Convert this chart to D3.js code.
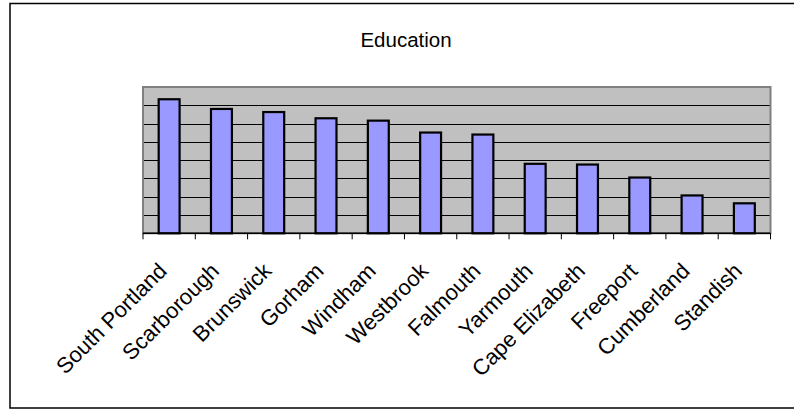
<!DOCTYPE html>
<html><head><meta charset="utf-8">
<script src="https://cdn.jsdelivr.net/npm/d3@7"></script>
<style>body{margin:0;background:#fff}svg{display:block}</style>
</head><body>
<script>
const categories = ["South Portland","Scarborough","Brunswick","Gorham","Windham","Westbrook","Falmouth","Yarmouth","Cape Elizabeth","Freeport","Cumberland","Standish"];
const values = [7.33,6.80,6.63,6.29,6.16,5.51,5.40,3.80,3.76,3.05,2.07,1.64];
const gridTicks = [0,1,2,3,4,5,6,7,8];
const title = "Education";

const W=794,H=409;
const svg=d3.select("body").append("svg").attr("width",W).attr("height",H);
svg.append("rect").attr("x",10).attr("y",3.5).attr("width",790).attr("height",404.5)
  .attr("fill","#fff").attr("stroke","#000").attr("stroke-width",1.5);

const L=143,R=770.5,T=87,B=233.3;
const x=d3.scaleBand().domain(categories).range([L,R]).paddingInner(0.6).paddingOuter(0.3);
const xb=d3.scaleBand().domain(categories).range([L,R]);
const y=d3.scaleLinear().domain([0,8]).range([B,T]);

svg.append("rect").attr("x",L).attr("y",T).attr("width",R-L).attr("height",B-T).attr("fill","#C0C0C0");
svg.append("g").selectAll("line").data(gridTicks.slice(1,-1)).join("line")
  .attr("x1",L).attr("x2",R).attr("y1",d=>Math.round(y(d))+0.5).attr("y2",d=>Math.round(y(d))+0.5)
  .attr("stroke","#000").attr("stroke-width",1);
svg.append("rect").attr("x",L).attr("y",T).attr("width",R-L).attr("height",B-T)
  .attr("fill","none").attr("stroke","#808080").attr("stroke-width",2);

svg.append("g").selectAll("rect").data(values).join("rect")
  .attr("x",(d,i)=>x(categories[i])).attr("width",x.bandwidth())
  .attr("y",d=>y(d)).attr("height",d=>B-y(d))
  .attr("fill","#9999FF").attr("stroke","#000").attr("stroke-width",2.2);

const ax=svg.append("g").attr("transform",`translate(0,${B})`);
ax.append("line").attr("x1",L).attr("x2",R).attr("y1",0).attr("y2",0).attr("stroke","#000").attr("stroke-width",1.5);
const bounds=categories.map(c=>xb(c)).concat([R]);
ax.selectAll("line.t").data(bounds).join("line").attr("class","t")
  .attr("x1",d=>d).attr("x2",d=>d).attr("y1",0).attr("y2",6).attr("stroke","#000").attr("stroke-width",1);
ax.selectAll("text").data(categories).join("text")
  .attr("transform",d=>`translate(${xb(d)+xb.bandwidth()/2-1},${39}) rotate(-45)`)
  .attr("text-anchor","end").attr("font-family","Liberation Sans, Arial, sans-serif")
  .attr("font-size",22).attr("fill","#000").text(d=>d);

svg.append("text").attr("x",406).attr("y",47).attr("text-anchor","middle")
  .attr("font-family","Liberation Sans, Arial, sans-serif").attr("font-size",20.5).text(title);
</script>
</body></html>
